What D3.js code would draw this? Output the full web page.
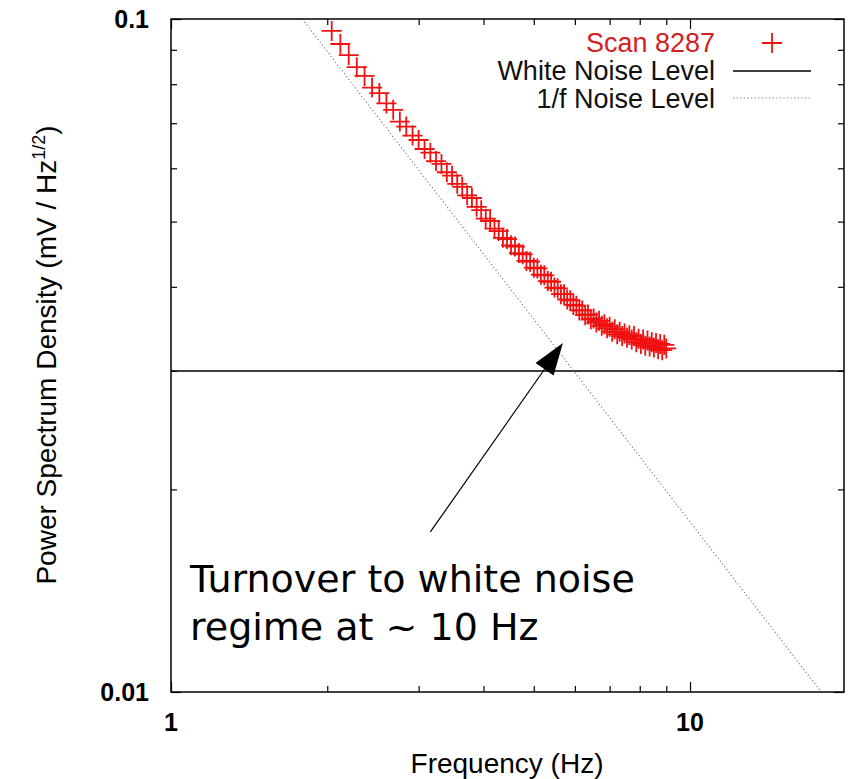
<!DOCTYPE html>
<html><head><meta charset="utf-8">
<script src="https://cdn.jsdelivr.net/npm/d3@7"></script>
<style>
html,body{margin:0;padding:0;background:#fff;}
svg{display:block;}
</style></head>
<body>
<svg id="chart" width="848" height="779"></svg>
<script>
// ---- data ----
const frequency = [2.04,2.12,2.20,2.28,2.36,2.44,2.52,2.60,2.68,2.76,
  2.84,2.92,3.00,3.08,3.16,3.24,3.32,3.40,3.48,3.56,
  3.64,3.72,3.80,3.88,3.96,4.04,4.12,4.20,4.28,4.36,
  4.44,4.52,4.60,4.68,4.76,4.84,4.92,5.00,5.08,5.16,
  5.24,5.32,5.40,5.48,5.56,5.64,5.72,5.80,5.88,5.96,
  6.04,6.12,6.20,6.28,6.36,6.44,6.52,6.60,6.68,6.76,
  6.84,6.92,7.00,7.08,7.16,7.24,7.32,7.40,7.48,7.56,
  7.64,7.72,7.80,7.88,7.96,8.04,8.12,8.20,8.28,8.36,
  8.44,8.52,8.60,8.68,8.76,8.84,8.92,9.00];
const scan8287 = [0.0960,0.0918,0.0884,0.0848,0.0823,0.0791,0.0776,0.0749,0.0733,0.0704,
  0.0692,0.0671,0.0661,0.0641,0.0633,0.0615,0.0609,0.0592,0.0585,0.0569,
  0.0563,0.0547,0.0542,0.0526,0.0520,0.0505,0.0501,0.0488,0.0484,0.0473,
  0.0471,0.0461,0.0459,0.0449,0.0447,0.0437,0.0436,0.0427,0.0426,0.0417,
  0.0416,0.0408,0.0407,0.0399,0.0398,0.0390,0.0390,0.0383,0.0382,0.0376,
  0.0375,0.0369,0.0369,0.0363,0.0364,0.0358,0.0359,0.0354,0.0356,0.0350,
  0.0352,0.0347,0.0349,0.0343,0.0346,0.0340,0.0343,0.0338,0.0341,0.0336,
  0.0339,0.0334,0.0338,0.0331,0.0335,0.0329,0.0334,0.0327,0.0333,0.0326,
  0.0331,0.0325,0.0330,0.0323,0.0329,0.0322,0.0328,0.0324];
const whiteNoiseLevel = 0.0300;
const oneOverFCoeff = 0.179;          // PSD = coeff / f
const xDomain = [1, 19.8];
const yDomain = [0.01, 0.1];
const xMajorTicks = [1, 10];
const xMinorTicks = [2,3,4,5,6,7,8,9];
const yMajorTicks = [0.01, 0.1];
const yMinorTicks = [0.02,0.03,0.04,0.05,0.06,0.07,0.08,0.09];
const xTickLabels = ["1", "10"];
const yTickLabels = ["0.01", "0.1"];
const legendLabels = ["Scan 8287", "White Noise Level", "1/f Noise Level"];
const annotationLines = ["Turnover to white noise", "regime at ~ 10 Hz"];
const annotationTextPos = [[1.088, 0.01408], [1.088, 0.01195]];
const arrowFrom = [3.16, 0.01729];
const arrowTo = [5.69, 0.0330];

// ---- layout ----
const L = 171, R = 844, T = 19, B = 692;
const svg = d3.select("#chart");
const x = d3.scaleLog().domain(xDomain).range([L, R]);
const y = d3.scaleLog().domain(yDomain).range([B, T]);

const clipId = "plotclip";
svg.append("defs").append("clipPath").attr("id", clipId)
  .append("rect").attr("x", L).attr("y", T).attr("width", R - L).attr("height", B - T);

// ticks (mirrored, inward)
const fmt = () => "";
function addAxis(axisFn, scale, ticks, size, transform) {
  svg.append("g").attr("transform", transform)
    .call(axisFn(scale).tickValues(ticks).tickSize(size).tickFormat(fmt))
    .call(g => g.select(".domain").remove())
    .call(g => g.selectAll("line").attr("stroke", "#000").attr("stroke-width", 1.2));
}
addAxis(d3.axisTop, x, xMajorTicks, 10, `translate(0,${B})`);
addAxis(d3.axisTop, x, xMinorTicks, 6, `translate(0,${B})`);
addAxis(d3.axisBottom, x, xMajorTicks, 10, `translate(0,${T})`);
addAxis(d3.axisBottom, x, xMinorTicks, 6, `translate(0,${T})`);
addAxis(d3.axisRight, y, yMajorTicks, 10, `translate(${L},0)`);
addAxis(d3.axisRight, y, yMinorTicks, 6, `translate(${L},0)`);
addAxis(d3.axisLeft, y, yMajorTicks, 10, `translate(${R},0)`);
addAxis(d3.axisLeft, y, yMinorTicks, 6, `translate(${R},0)`);

// tick labels
svg.append("g").selectAll("text").data(xMajorTicks).join("text")
  .attr("x", d => x(d)).attr("y", 731)
  .attr("text-anchor", "middle")
  .attr("font-family", "Liberation Sans, Arial, sans-serif")
  .attr("font-weight", "bold").attr("font-size", 25)
  .text((d, i) => xTickLabels[i]);
svg.append("g").selectAll("text").data(yMajorTicks).join("text")
  .attr("x", 149).attr("y", d => y(d) + 9)
  .attr("text-anchor", "end")
  .attr("font-family", "Liberation Sans, Arial, sans-serif")
  .attr("font-weight", "bold").attr("font-size", 25)
  .text((d, i) => yTickLabels[i]);

// axis titles
svg.append("text")
  .attr("transform", `translate(56,355) rotate(-90)`)
  .attr("text-anchor", "middle")
  .attr("font-family", "Liberation Sans, Arial, sans-serif")
  .attr("font-size", 28)
  .html('Power Spectrum Density (mV / Hz<tspan dy="-11" font-size="18">1/2</tspan><tspan dy="11">)</tspan>');
svg.append("text")
  .attr("x", 507).attr("y", 773)
  .attr("text-anchor", "middle")
  .attr("font-family", "Liberation Sans, Arial, sans-serif")
  .attr("font-size", 28)
  .text("Frequency (Hz)");

const plot = svg.append("g").attr("clip-path", `url(#${clipId})`);

// white noise line
plot.append("line")
  .attr("x1", x(xDomain[0])).attr("x2", x(xDomain[1]))
  .attr("y1", y(whiteNoiseLevel)).attr("y2", y(whiteNoiseLevel))
  .attr("stroke", "#000").attr("stroke-width", 1.5);

// 1/f line
const fStart = oneOverFCoeff / yDomain[1];
const fEnd = Math.min(xDomain[1], oneOverFCoeff / yDomain[0]);
plot.append("line")
  .attr("x1", x(fStart)).attr("y1", y(oneOverFCoeff / fStart))
  .attr("x2", x(fEnd)).attr("y2", y(oneOverFCoeff / fEnd))
  .attr("stroke", "#777").attr("stroke-width", 1.1)
  .attr("stroke-dasharray", "1.2,2.4");

// data crosses
const pts = frequency.map((f, i) => [f, scan8287[i]]);
const cs = 10;
plot.append("g").selectAll("path").data(pts).join("path")
  .attr("d", d => {
    const px = x(d[0]), py = y(d[1]);
    return `M${px - cs},${py}H${px + cs}M${px},${py - cs}V${py + cs}`;
  })
  .attr("fill", "none").attr("stroke", "#f01010").attr("stroke-width", 1.8);

// frame
svg.append("rect").attr("x", L).attr("y", T).attr("width", R - L).attr("height", B - T)
  .attr("fill", "none").attr("stroke", "#000").attr("stroke-width", 1.5);

// legend
const legX = 715, sampleX1 = 733, sampleX2 = 811;
const legY = [52, 80, 108];
const leg = svg.append("g").attr("font-family", "Liberation Sans, Arial, sans-serif").attr("font-size", 27);
leg.selectAll("text").data(legendLabels).join("text")
  .attr("x", legX).attr("y", (d, i) => legY[i])
  .attr("text-anchor", "end")
  .attr("fill", (d, i) => i === 0 ? "#d42020" : "#111")
  .text(d => d);
const midS = (sampleX1 + sampleX2) / 2;
leg.append("path")
  .attr("d", `M${midS - 10},${legY[0] - 9}H${midS + 10}M${midS},${legY[0] - 19}V${legY[0] + 1}`)
  .attr("stroke", "#f01010").attr("stroke-width", 1.8).attr("fill", "none");
leg.append("line").attr("x1", sampleX1).attr("x2", sampleX2)
  .attr("y1", legY[1] - 9).attr("y2", legY[1] - 9)
  .attr("stroke", "#000").attr("stroke-width", 1.5);
leg.append("line").attr("x1", sampleX1).attr("x2", sampleX2)
  .attr("y1", legY[2] - 10).attr("y2", legY[2] - 10)
  .attr("stroke", "#777").attr("stroke-width", 1.1).attr("stroke-dasharray", "1.2,2.4");

// annotation
svg.append("g").selectAll("text").data(annotationLines).join("text")
  .attr("x", (d, i) => x(annotationTextPos[i][0]))
  .attr("y", (d, i) => y(annotationTextPos[i][1]))
  .attr("font-family", "DejaVu Sans, sans-serif")
  .attr("font-size", 38)
  .attr("fill", "#000")
  .text(d => d);

const ax1 = x(arrowFrom[0]), ay1 = y(arrowFrom[1]);
const ax2 = x(arrowTo[0]), ay2 = y(arrowTo[1]);
const ang = Math.atan2(ay2 - ay1, ax2 - ax1);
const headLen = 32, headW = 11;
const bx = ax2 - headLen * Math.cos(ang), by = ay2 - headLen * Math.sin(ang);
svg.append("line").attr("x1", ax1).attr("y1", ay1).attr("x2", bx).attr("y2", by)
  .attr("stroke", "#000").attr("stroke-width", 1.2);
const nx = -Math.sin(ang), ny = Math.cos(ang);
svg.append("path")
  .attr("d", `M${ax2},${ay2}L${bx + nx * headW},${by + ny * headW}L${bx - nx * headW},${by - ny * headW}Z`)
  .attr("fill", "#000");
</script>
</body></html>
